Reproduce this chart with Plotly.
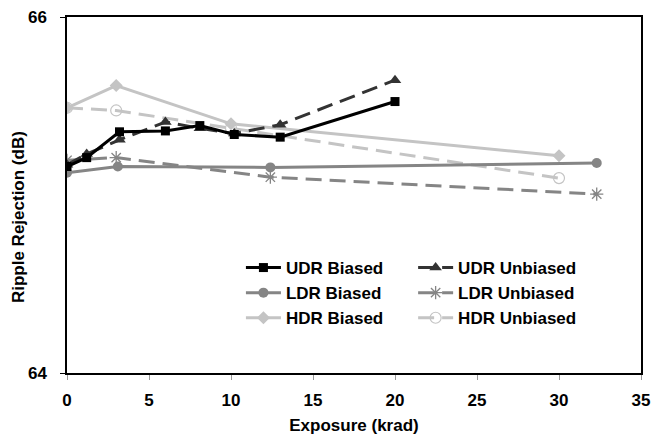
import plotly.graph_objects as go

# ---- data ----
udr_b_x = [0, 1.2, 3.2, 6.0, 8.1, 10.2, 13.0, 20.0]
udr_b_y = [65.16, 65.21, 65.355, 65.36, 65.39, 65.34, 65.325, 65.525]

udr_u_x = [0, 1.2, 3.2, 6.0, 8.1, 10.2, 13.0, 20.0]
udr_u_y = [65.17, 65.23, 65.31, 65.41, 65.375, 65.345, 65.395, 65.645]

ldr_b_x = [0, 3.1, 12.4, 32.3]
ldr_b_y = [65.125, 65.16, 65.155, 65.18]

ldr_u_x = [0, 3.0, 12.4, 32.3]
ldr_u_y = [65.195, 65.21, 65.10, 65.005]

hdr_b_x = [0, 3.0, 10.0, 30.0]
hdr_b_y = [65.49, 65.615, 65.40, 65.22]

hdr_u_x = [0, 3.0, 10.0, 30.0]
hdr_u_y = [65.49, 65.475, 65.375, 65.095]

x_ticks = [0, 5, 10, 15, 20, 25, 30, 35]
y_ticks = [64, 66]

FONT = "Arial, 'Liberation Sans', sans-serif"
BLACK = "#000000"
DARK = "#333333"
MID = "#858585"
LIGHT = "#c4c4c4"
DASH = "16px,8px"

fig = go.Figure()

# draw order: light first, dark last
fig.add_trace(go.Scatter(x=hdr_u_x, y=hdr_u_y, name="HDR Unbiased", mode="lines+markers",
    line=dict(color=LIGHT, width=3, dash=DASH),
    marker=dict(symbol="circle-open", size=11, color=LIGHT, line=dict(width=1.2, color=LIGHT)),
    legend="legend2", legendrank=3))
fig.add_trace(go.Scatter(x=hdr_b_x, y=hdr_b_y, name="HDR Biased", mode="lines+markers",
    line=dict(color=LIGHT, width=3),
    marker=dict(symbol="diamond", size=10, color=LIGHT),
    legend="legend", legendrank=3))
fig.add_trace(go.Scatter(x=ldr_u_x, y=ldr_u_y, name="LDR Unbiased", mode="lines+markers",
    line=dict(color=MID, width=3, dash=DASH),
    marker=dict(symbol="asterisk-open", size=11, color=MID, line=dict(width=1.3, color=MID)),
    legend="legend2", legendrank=2))
fig.add_trace(go.Scatter(x=ldr_b_x, y=ldr_b_y, name="LDR Biased", mode="lines+markers",
    line=dict(color=MID, width=3),
    marker=dict(symbol="circle", size=10, color=MID),
    legend="legend", legendrank=2))
fig.add_trace(go.Scatter(x=udr_u_x, y=udr_u_y, name="UDR Unbiased", mode="lines+markers",
    line=dict(color=DARK, width=3, dash=DASH),
    marker=dict(symbol="triangle-up", size=11, color=DARK),
    legend="legend2", legendrank=1))
fig.add_trace(go.Scatter(x=udr_b_x, y=udr_b_y, name="UDR Biased", mode="lines+markers",
    line=dict(color=BLACK, width=3),
    marker=dict(symbol="square", size=9, color=BLACK),
    legend="legend", legendrank=1))

legend_common = dict(
    font=dict(family=FONT, size=17, color="#000000", weight="bold"),
    bgcolor="rgba(0,0,0,0)", borderwidth=0, tracegroupgap=0,
    xanchor="left", yanchor="top", itemwidth=35,
)

fig.update_layout(
    width=654, height=435,
    margin=dict(l=67, r=13, t=17, b=62, autoexpand=False),
    paper_bgcolor="white", plot_bgcolor="white",
    font=dict(family=FONT, size=17, color="#000000", weight="bold"),
    legend=dict(x=0.303, y=0.3455, **legend_common),
    legend2=dict(x=0.603, y=0.3455, **legend_common),
    xaxis=dict(
        range=[0, 35], tickvals=x_ticks, ticks="outside", ticklen=5, tickcolor="#999999",
        showgrid=False, zeroline=False, showline=True, linecolor="#000000", linewidth=1.5,
        mirror=True, automargin=False, ticklabelstandoff=6,
        tickfont=dict(family=FONT, size=17, weight="bold"),
        title=dict(text="Exposure (krad)", font=dict(family=FONT, size=17, weight="bold"), standoff=12),
    ),
    yaxis=dict(
        range=[64, 66], tickvals=y_ticks, ticks="outside", ticklen=5, tickcolor="#000000",
        showgrid=False, zeroline=False, showline=True, linecolor="#000000", linewidth=1.5,
        mirror=True, automargin=False, ticklabelstandoff=10,
        tickfont=dict(family=FONT, size=17, weight="bold"),
    ),
    annotations=[dict(
        text="Ripple Rejection (dB)", textangle=-90, showarrow=False,
        xref="paper", yref="paper", x=-0.0854, y=0.438, xanchor="center", yanchor="middle",
        font=dict(family=FONT, size=17, weight="bold", color="#000000"),
    )],
)

fig.write_html("out.html", config={"displayModeBar": False},
               post_script="document.body.style.margin='0';")
